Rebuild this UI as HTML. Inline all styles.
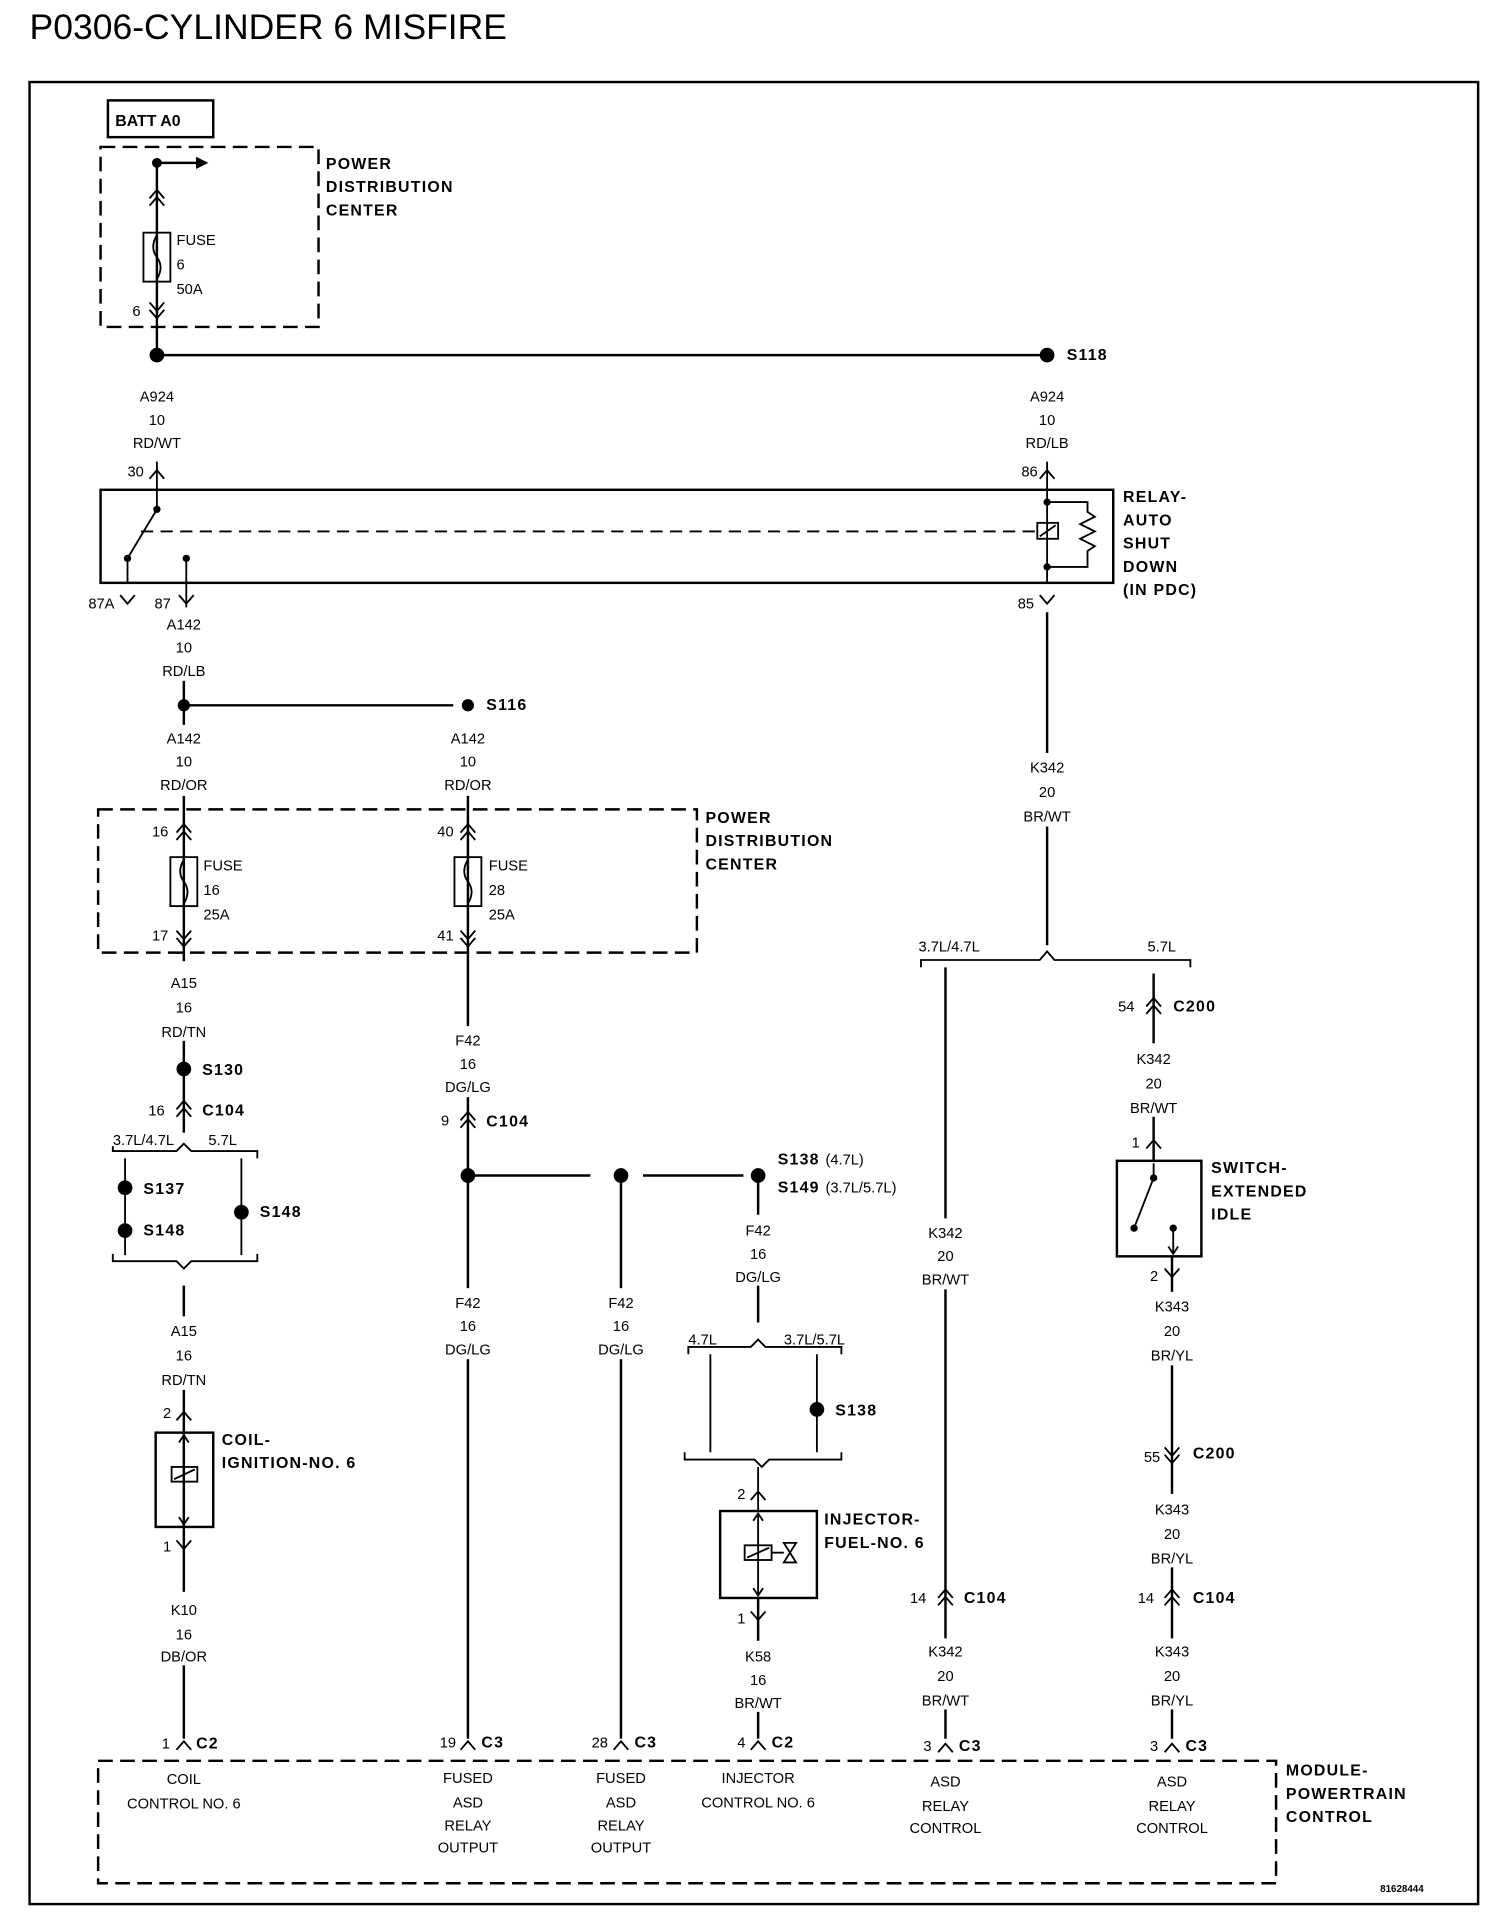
<!DOCTYPE html>
<html><head><meta charset="utf-8"><style>
html,body{margin:0;padding:0;background:#fff}
svg{display:block}
text{font-family:"Liberation Sans",sans-serif;font-size:12px;fill:#000}
.c{text-anchor:middle}
.b{font-weight:bold;font-size:13px;letter-spacing:1px}
.l{stroke:#000;stroke-width:2;fill:none}
.d{stroke:#000;stroke-width:2;fill:none;stroke-dasharray:12,6}
.k{stroke:#000;stroke-width:1.5;fill:none}
</style></head><body>
<svg width="1504" height="1920" viewBox="0 0 1224 1568" xmlns="http://www.w3.org/2000/svg">
<text x="22" y="32" style="font-size:29px">P0306-CYLINDER 6 MISFIRE</text>
<rect x="22" y="67" width="1183" height="1488" class="l"/>

<!-- top PDC -->
<rect x="86" y="82" width="86" height="30" class="l"/>
<text x="92" y="103" class="b" style="letter-spacing:0">BATT A0</text>
<rect x="80" y="120" width="178" height="147" class="d"/>
<text x="264" y="138" class="b">POWER</text><text x="264" y="157" class="b">DISTRIBUTION</text><text x="264" y="176" class="b">CENTER</text>
<line x1="126" y1="133" x2="126" y2="290" class="l"/>
<circle cx="126" cy="133" r="4"/><line x1="126" y1="133" x2="160" y2="133" class="l"/><path d="M158 128 L168 133 L158 138Z"/>
<path d="M120 162 L126 155 L132 162 M120 168 L126 161 L132 168" class="k"/>
<rect x="115" y="190" width="22" height="40" class="k" fill="#fff"/><path d="M126 192 Q120 202 126 210 Q132 218 126 228" class="k"/>
<text x="142" y="200">FUSE</text><text x="142" y="220">6</text><text x="142" y="240">50A</text>
<text x="106" y="258">6</text>
<path d="M120 247 L126 254 L132 247 M120 253 L126 260 L132 253" class="k"/>
<circle cx="126" cy="290" r="6"/><line x1="126" y1="290" x2="853" y2="290" class="l"/><circle cx="853" cy="290" r="6"/>
<text x="869" y="294" class="b">S118</text>
<text x="126" y="328" class="c">A924</text><text x="126" y="347" class="c">10</text><text x="126" y="366" class="c">RD/WT</text>
<text x="853" y="328" class="c">A924</text><text x="853" y="347" class="c">10</text><text x="853" y="366" class="c">RD/LB</text>
<text x="102" y="389">30</text><text x="832" y="389">86</text>
<line x1="126" y1="377" x2="126" y2="400" class="k"/><path d="M120 391 L126 384 L132 391" class="k"/>
<line x1="853" y1="377" x2="853" y2="400" class="k"/><path d="M847 391 L853 384 L859 391" class="k"/>

<!-- relay -->
<rect x="80" y="400" width="827" height="76" class="l"/>
<line x1="126" y1="400" x2="126" y2="416" class="k"/><circle cx="126" cy="416" r="3"/>
<line x1="126" y1="416" x2="102" y2="456" class="k"/><circle cx="102" cy="456" r="3"/><line x1="102" y1="456" x2="102" y2="476" class="k"/>
<circle cx="150" cy="456" r="3"/><line x1="150" y1="456" x2="150" y2="476" class="k"/>
<line x1="113" y1="434" x2="845" y2="434" class="k" stroke-dasharray="10,6"/>
<line x1="853" y1="400" x2="853" y2="476" class="k"/>
<circle cx="853" cy="410" r="3"/><circle cx="853" cy="463" r="3"/>
<rect x="845" y="427" width="17" height="13" class="k" fill="#fff"/><line x1="847" y1="438" x2="860" y2="429" class="k"/>
<path d="M853 410 L886 410 L886 418 L892 422 L880 428 L892 434 L880 440 L892 446 L886 450 L886 463 L853 463" class="k"/>
<text x="915" y="410" class="b">RELAY-</text><text x="915" y="429" class="b">AUTO</text><text x="915" y="448" class="b">SHUT</text><text x="915" y="467" class="b">DOWN</text><text x="915" y="486" class="b">(IN PDC)</text>
<text x="70" y="497">87A</text><text x="124" y="497">87</text><text x="829" y="497">85</text>
<path d="M96 486 L102 493 L108 486 M144 486 L150 493 L156 486 M847 486 L853 493 L859 486" class="k"/>
<line x1="150" y1="476" x2="150" y2="496" class="k"/>
<line x1="148" y1="556" x2="148" y2="592" class="l"/>
<line x1="148" y1="650" x2="148" y2="1420" class="l"/>
<text x="148" y="514" class="c">A142</text><text x="148" y="533" class="c">10</text><text x="148" y="552" class="c">RD/LB</text>
<circle cx="148" cy="576" r="5"/><line x1="148" y1="576" x2="368" y2="576" class="l"/><circle cx="380" cy="576" r="5"/>
<text x="395" y="580" class="b">S116</text>
<text x="148" y="607" class="c">A142</text><text x="148" y="626" class="c">10</text><text x="148" y="645" class="c">RD/OR</text>
<text x="380" y="607" class="c">A142</text><text x="380" y="626" class="c">10</text><text x="380" y="645" class="c">RD/OR</text>
<line x1="380" y1="650" x2="380" y2="1420" class="l"/>

<!-- second PDC -->
<rect x="78" y="661" width="489" height="117" class="d"/>
<text x="574" y="672" class="b">POWER</text><text x="574" y="691" class="b">DISTRIBUTION</text><text x="574" y="710" class="b">CENTER</text>
<text x="122" y="683">16</text><text x="122" y="768">17</text>
<text x="355" y="683">40</text><text x="355" y="768">41</text>
<path d="M142 680 L148 673 L154 680 M142 686 L148 679 L154 686 M374 680 L380 673 L386 680 M374 686 L380 679 L386 686" class="k"/>
<path d="M142 760 L148 767 L154 760 M142 766 L148 773 L154 766 M374 760 L380 767 L386 760 M374 766 L380 773 L386 766" class="k"/>
<rect x="137" y="700" width="22" height="40" class="k" fill="#fff"/><path d="M148 702 Q142 712 148 720 Q154 728 148 738" class="k"/>
<rect x="369" y="700" width="22" height="40" class="k" fill="#fff"/><path d="M380 702 Q374 712 380 720 Q386 728 380 738" class="k"/>
<text x="164" y="711">FUSE</text><text x="164" y="731">16</text><text x="164" y="751">25A</text>
<text x="397" y="711">FUSE</text><text x="397" y="731">28</text><text x="397" y="751">25A</text>

<!-- left column -->
<rect x="140" y="785" width="16" height="65" fill="#fff"/>
<text x="148" y="807" class="c">A15</text><text x="148" y="827" class="c">16</text><text x="148" y="847" class="c">RD/TN</text>
<circle cx="148" cy="873" r="6"/><text x="163" y="878" class="b">S130</text>
<text x="119" y="911">16</text><text x="163" y="911" class="b">C104</text>
<path d="M142 906 L148 899 L154 906 M142 912 L148 905 L154 912" class="k"/>
<rect x="140" y="925" width="16" height="125" fill="#fff"/>
<path d="M90 936 L90 940 L142 940 L148 934 L154 940 L208 940 L208 946" class="k"/>
<text x="90" y="935">3.7L/4.7L</text><text x="168" y="935">5.7L</text>
<line x1="100" y1="946" x2="100" y2="1025" class="k"/><line x1="195" y1="946" x2="195" y2="1025" class="k"/>
<circle cx="100" cy="970" r="6"/><text x="115" y="975" class="b">S137</text>
<circle cx="100" cy="1005" r="6"/><text x="115" y="1009" class="b">S148</text>
<circle cx="195" cy="990" r="6"/><text x="210" y="994" class="b">S148</text>
<path d="M90 1024 L90 1030 L142 1030 L148 1036 L154 1030 L208 1030 L208 1024" class="k"/>
<line x1="148" y1="1050" x2="148" y2="1070" class="k"/>
<rect x="140" y="1075" width="16" height="60" fill="#fff"/>
<text x="148" y="1091" class="c">A15</text><text x="148" y="1111" class="c">16</text><text x="148" y="1131" class="c">RD/TN</text>
<text x="131" y="1158">2</text><path d="M142 1160 L148 1153 L154 1160" class="k"/>
<rect x="125" y="1170" width="47" height="77" class="l" fill="#fff"/>
<line x1="148" y1="1172" x2="148" y2="1245" class="k"/><path d="M144 1178 L148 1172 L152 1178 M144 1239 L148 1245 L152 1239" class="k"/>
<rect x="138" y="1198" width="21" height="12" class="k" fill="#fff"/><line x1="140" y1="1208" x2="157" y2="1200" class="k"/>
<text x="179" y="1180" class="b">COIL-</text><text x="179" y="1199" class="b">IGNITION-NO. 6</text>
<text x="131" y="1267">1</text><path d="M142 1258 L148 1265 L154 1258" class="k"/>
<rect x="140" y="1300" width="16" height="60" fill="#fff"/>
<text x="148" y="1319" class="c">K10</text><text x="148" y="1339" class="c">16</text><text x="148" y="1357" class="c">DB/OR</text>

<!-- middle -->
<rect x="372" y="838" width="16" height="58" fill="#fff"/>
<text x="380" y="854" class="c">F42</text><text x="380" y="873" class="c">16</text><text x="380" y="892" class="c">DG/LG</text>
<text x="358" y="919">9</text><text x="395" y="920" class="b">C104</text>
<path d="M374 915 L380 908 L386 915 M374 921 L380 914 L386 921" class="k"/>
<circle cx="380" cy="960" r="6"/><line x1="380" y1="960" x2="480" y2="960" class="l"/><circle cx="505" cy="960" r="6"/>
<line x1="523" y1="960" x2="605" y2="960" class="l"/><circle cx="617" cy="960" r="6"/>
<line x1="505" y1="960" x2="505" y2="1420" class="l"/>
<line x1="617" y1="960" x2="617" y2="1080" class="l"/>
<text x="633" y="951" class="b">S138</text><text x="672" y="951">(4.7L)</text>
<text x="633" y="974" class="b">S149</text><text x="672" y="974">(3.7L/5.7L)</text>
<rect x="609" y="992" width="16" height="58" fill="#fff"/>
<text x="617" y="1009" class="c">F42</text><text x="617" y="1028" class="c">16</text><text x="617" y="1047" class="c">DG/LG</text>
<rect x="372" y="1052" width="16" height="58" fill="#fff"/><rect x="497" y="1052" width="16" height="58" fill="#fff"/>
<text x="380" y="1068" class="c">F42</text><text x="380" y="1087" class="c">16</text><text x="380" y="1106" class="c">DG/LG</text>
<text x="505" y="1068" class="c">F42</text><text x="505" y="1087" class="c">16</text><text x="505" y="1106" class="c">DG/LG</text>
<path d="M560 1106 L560 1100 L611 1100 L617 1094 L623 1100 L685 1100 L685 1106" class="k"/>
<text x="560" y="1098">4.7L</text><text x="638" y="1098">3.7L/5.7L</text>
<line x1="578" y1="1106" x2="578" y2="1186" class="k"/><line x1="665" y1="1106" x2="665" y2="1186" class="k"/>
<circle cx="665" cy="1151" r="6"/><text x="680" y="1156" class="b">S138</text>
<path d="M557 1186 L557 1192 L614 1192 L620 1198 L626 1192 L685 1192 L685 1186" class="k"/>
<line x1="617" y1="1198" x2="617" y2="1234" class="k"/>
<text x="600" y="1224">2</text><path d="M611 1225 L617 1218 L623 1225" class="k"/>
<rect x="586" y="1234" width="79" height="71" class="l" fill="#fff"/>
<line x1="617" y1="1236" x2="617" y2="1303" class="k"/><path d="M613 1242 L617 1236 L621 1242 M613 1297 L617 1303 L621 1297" class="k"/>
<rect x="606" y="1262" width="22" height="12" class="k" fill="#fff"/><line x1="608" y1="1272" x2="626" y2="1264" class="k"/>
<line x1="628" y1="1268" x2="638" y2="1268" class="k"/><path d="M638 1260 L648 1276 L638 1276 L648 1260Z" class="k"/>
<text x="671" y="1245" class="b">INJECTOR-</text><text x="671" y="1264" class="b">FUEL-NO. 6</text>
<line x1="617" y1="1305" x2="617" y2="1420" class="l"/>
<text x="600" y="1326">1</text><path d="M611 1316 L617 1323 L623 1316" class="k"/>
<rect x="609" y="1340" width="16" height="58" fill="#fff"/>
<text x="617" y="1357" class="c">K58</text><text x="617" y="1376" class="c">16</text><text x="617" y="1395" class="c">BR/WT</text>

<!-- right: K342 -->
<line x1="853" y1="500" x2="853" y2="772" class="l"/>
<rect x="845" y="615" width="16" height="60" fill="#fff"/>
<text x="853" y="631" class="c">K342</text><text x="853" y="651" class="c">20</text><text x="853" y="671" class="c">BR/WT</text>
<path d="M750 790 L750 784 L847 784 L853 777 L859 784 L970 784 L970 790" class="k"/>
<text x="748" y="777">3.7L/4.7L</text><text x="935" y="777">5.7L</text>
<line x1="770" y1="790" x2="770" y2="1420" class="l"/>
<rect x="762" y="995" width="16" height="58" fill="#fff"/>
<text x="770" y="1011" class="c">K342</text><text x="770" y="1030" class="c">20</text><text x="770" y="1049" class="c">BR/WT</text>
<text x="741" y="1309">14</text><text x="785" y="1309" class="b">C104</text>
<path d="M764 1305 L770 1298 L776 1305 M764 1311 L770 1304 L776 1311" class="k"/>
<rect x="762" y="1338" width="16" height="58" fill="#fff"/>
<text x="770" y="1353" class="c">K342</text><text x="770" y="1373" class="c">20</text><text x="770" y="1393" class="c">BR/WT</text>

<line x1="940" y1="795" x2="940" y2="948" class="l"/>
<text x="911" y="826">54</text><text x="956" y="826" class="b">C200</text>
<path d="M934 822 L940 815 L946 822 M934 828 L940 821 L946 828" class="k"/>
<rect x="932" y="852" width="16" height="60" fill="#fff"/>
<text x="940" y="869" class="c">K342</text><text x="940" y="889" class="c">20</text><text x="940" y="909" class="c">BR/WT</text>
<text x="922" y="937">1</text><path d="M934 938 L940 931 L946 938" class="k"/>
<rect x="910" y="948" width="69" height="78" class="l" fill="#fff"/>
<circle cx="940" cy="962" r="3"/><line x1="940" y1="950" x2="940" y2="962" class="k"/>
<line x1="940" y1="962" x2="924" y2="1003" class="k"/><circle cx="924" cy="1003" r="3"/>
<circle cx="956" cy="1003" r="3"/><line x1="956" y1="1003" x2="956" y2="1024" class="k"/>
<path d="M952 1018 L956 1024 L960 1018" class="k"/>
<text x="987" y="958" class="b">SWITCH-</text><text x="987" y="977" class="b">EXTENDED</text><text x="987" y="996" class="b">IDLE</text>
<line x1="955" y1="1026" x2="955" y2="1420" class="l"/>
<text x="937" y="1046">2</text><path d="M949 1036 L955 1043 L961 1036" class="k"/>
<rect x="947" y="1055" width="16" height="60" fill="#fff"/>
<text x="955" y="1071" class="c">K343</text><text x="955" y="1091" class="c">20</text><text x="955" y="1111" class="c">BR/YL</text>
<text x="932" y="1194">55</text><text x="972" y="1191" class="b">C200</text>
<path d="M949 1182 L955 1189 L961 1182 M949 1188 L955 1195 L961 1188" class="k"/>
<rect x="947" y="1220" width="16" height="60" fill="#fff"/>
<text x="955" y="1237" class="c">K343</text><text x="955" y="1257" class="c">20</text><text x="955" y="1277" class="c">BR/YL</text>
<text x="927" y="1309">14</text><text x="972" y="1309" class="b">C104</text>
<path d="M949 1305 L955 1298 L961 1305 M949 1311 L955 1304 L961 1311" class="k"/>
<rect x="947" y="1338" width="16" height="58" fill="#fff"/>
<text x="955" y="1353" class="c">K343</text><text x="955" y="1373" class="c">20</text><text x="955" y="1393" class="c">BR/YL</text>

<!-- PCM connectors -->
<text x="130" y="1428">1</text><text x="158" y="1428" class="b">C2</text><path d="M142 1429 L148 1422 L154 1429" class="k"/>
<text x="357" y="1427">19</text><text x="391" y="1427" class="b">C3</text><path d="M374 1429 L380 1422 L386 1429" class="k"/>
<text x="481" y="1427">28</text><text x="516" y="1427" class="b">C3</text><path d="M499 1429 L505 1422 L511 1429" class="k"/>
<text x="600" y="1427">4</text><text x="628" y="1427" class="b">C2</text><path d="M611 1429 L617 1422 L623 1429" class="k"/>
<text x="752" y="1430">3</text><text x="781" y="1430" class="b">C3</text><path d="M764 1431 L770 1424 L776 1431" class="k"/>
<text x="937" y="1430">3</text><text x="966" y="1430" class="b">C3</text><path d="M949 1431 L955 1424 L961 1431" class="k"/>
<rect x="78" y="1438" width="962" height="100" class="d"/>
<text x="1048" y="1450" class="b">MODULE-</text><text x="1048" y="1469" class="b">POWERTRAIN</text><text x="1048" y="1488" class="b">CONTROL</text>
<text x="148" y="1457" class="c">COIL</text><text x="148" y="1477" class="c">CONTROL NO. 6</text>
<text x="380" y="1456" class="c">FUSED</text><text x="380" y="1476" class="c">ASD</text><text x="380" y="1495" class="c">RELAY</text><text x="380" y="1513" class="c">OUTPUT</text>
<text x="505" y="1456" class="c">FUSED</text><text x="505" y="1476" class="c">ASD</text><text x="505" y="1495" class="c">RELAY</text><text x="505" y="1513" class="c">OUTPUT</text>
<text x="617" y="1456" class="c">INJECTOR</text><text x="617" y="1476" class="c">CONTROL NO. 6</text>
<text x="770" y="1459" class="c">ASD</text><text x="770" y="1479" class="c">RELAY</text><text x="770" y="1497" class="c">CONTROL</text>
<text x="955" y="1459" class="c">ASD</text><text x="955" y="1479" class="c">RELAY</text><text x="955" y="1497" class="c">CONTROL</text>
<text x="1125" y="1545" style="font-size:8px;font-weight:bold">81628444</text>
</svg>
</body></html>
